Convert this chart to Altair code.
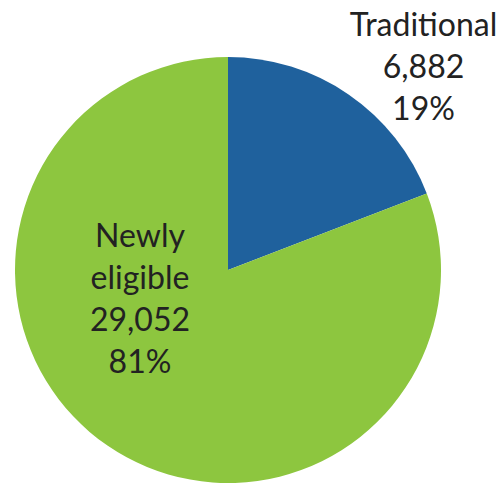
import altair as alt
import pandas as pd

categories = ["Traditional", "Newly eligible"]
values = [6882, 29052]
percents = [19, 81]
label_lines = [["Traditional"], ["Newly", "eligible"]]
colors = ["#1F619D", "#8DC63F"]

rows = []
for i, (c, v, p, ll) in enumerate(zip(categories, values, percents, label_lines)):
    rows.append({
        "category": c,
        "value": v,
        "order": i,
        "label": "\n".join(ll + [f"{v:,}", f"{p}%"]),
    })
df = pd.DataFrame(rows)
total = sum(values)

CX, CY, R = 228, 270, 213
FONT = "Lato"
FS = 32
LH = 42
TXT = "#222222"

base = alt.Chart(df)

pie = base.mark_arc(outerRadius=R, stroke=None).encode(
    x=alt.value(CX),
    y=alt.value(CY),
    theta=alt.Theta("value:Q", stack=True),
    order=alt.Order("order:Q"),
    color=alt.Color("category:N", scale=alt.Scale(domain=categories, range=colors), legend=None),
)

lab_base = base.transform_window(
    cum="sum(value)", sort=[alt.SortField("order")]
).transform_calculate(
    mid="datum.cum - datum.value / 2"
)

def label_layer(cat, radius, dx, dy):
    return lab_base.transform_filter(alt.datum.category == cat).mark_text(
        font=FONT, fontSize=FS, lineHeight=LH, lineBreak="\n", color=TXT,
        align="center", baseline="middle", dx=dx, dy=dy,
    ).encode(
        x=alt.value(CX),
        y=alt.value(CY),
        theta=alt.Theta("mid:Q", scale=alt.Scale(domain=[0, total], range=[0, 6.283185307179586])),
        radius=alt.value(radius),
        text="label:N",
    )

t1 = label_layer("Traditional", 250, 54, -38)
t2 = label_layer("Newly eligible", 0, -88, -33)

chart = alt.layer(pie, t1, t2).resolve_scale(theta="independent").properties(
    width=502, height=484, padding=0,
    autosize=alt.AutoSizeParams(type="none"),
).configure_view(stroke=None)

chart.save("out.html", embed_options={"renderer": "svg", "actions": False})
